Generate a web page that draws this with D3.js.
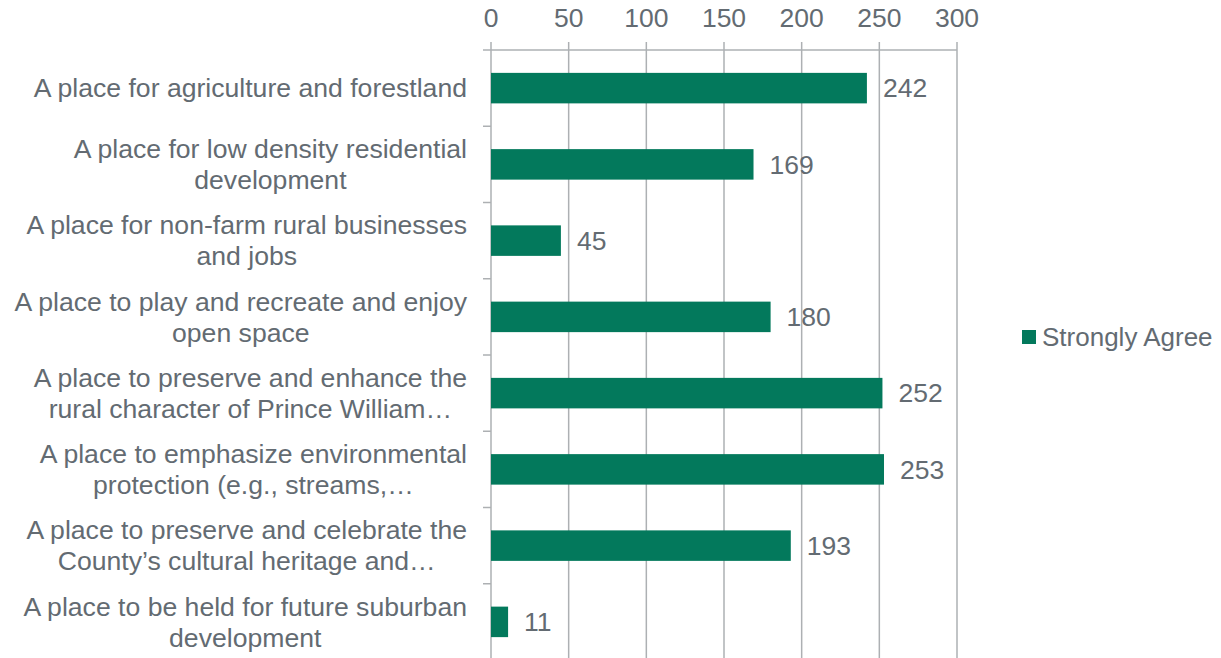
<!DOCTYPE html>
<html><head><meta charset="utf-8">
<script src="https://cdn.jsdelivr.net/npm/d3@7"></script>
<style>body{margin:0;background:#fff}svg{display:block}</style>
</head><body>
<svg id="c" width="1221" height="658"></svg>
<script>
const categories = [
  ["A place for agriculture and forestland"],
  ["A place for low density residential", "development"],
  ["A place for non-farm rural businesses", "and jobs"],
  ["A place to play and recreate and enjoy", "open space"],
  ["A place to preserve and enhance the", "rural character of Prince William…"],
  ["A place to emphasize environmental", "protection (e.g., streams,…"],
  ["A place to preserve and celebrate the", "County’s cultural heritage and…"],
  ["A place to be held for future suburban", "development"]
];
const values = [242, 169, 45, 180, 252, 253, 193, 11];
const tickValues = [0, 50, 100, 150, 200, 250, 300];
const seriesName = "Strongly Agree";

(function () {
const green = "#03795C", textC = "#636B72", gridC = "#ADB0B3";
const font = "'Liberation Sans', Arial, sans-serif", fs = 26.5, catFs = 26.6, legFs = 26;
const svg = d3.select("#c");
const pLeft = 491, pRight = 957, pTop = 50, pBottom = 660;
const x = d3.scaleLinear().domain([0, 300]).range([pLeft, pRight]);
const y = d3.scaleBand().domain(d3.range(categories.length)).range([pTop, pBottom]).paddingInner(0.6).paddingOuter(0.3);
const yb = d3.scaleBand().domain(d3.range(categories.length)).range([pTop, pBottom]);

svg.append("g").selectAll("line").data(tickValues).join("line")
  .attr("x1", d => x(d)).attr("x2", d => x(d)).attr("y1", pTop - 8).attr("y2", 658)
  .attr("stroke", gridC).attr("stroke-width", 1.5);
svg.append("line").attr("x1", pLeft - 8).attr("x2", pRight).attr("y1", pTop).attr("y2", pTop)
  .attr("stroke", gridC).attr("stroke-width", 1.5);
svg.append("g").selectAll("text").data(tickValues).join("text")
  .attr("x", d => x(d)).attr("y", 27).attr("text-anchor", "middle")
  .attr("font-family", font).attr("font-size", fs).attr("fill", textC).text(d => d);
svg.append("g").selectAll("line").data(d3.range(1, categories.length)).join("line")
  .attr("x1", pLeft - 8).attr("x2", pLeft).attr("y1", d => yb(d)).attr("y2", d => yb(d))
  .attr("stroke", gridC).attr("stroke-width", 1.5);

svg.append("g").selectAll("rect").data(values).join("rect")
  .attr("x", x(0)).attr("y", (d, i) => y(i)).attr("width", d => x(d) - x(0)).attr("height", y.bandwidth())
  .attr("fill", green);
svg.append("g").selectAll("text").data(values).join("text")
  .attr("x", d => x(d) + 16).attr("y", (d, i) => y(i) + y.bandwidth() / 2).attr("dy", "0.35em")
  .attr("font-family", font).attr("font-size", fs).attr("fill", textC).text(d => d);

const cl = svg.append("g").selectAll("text").data(categories).join("text")
  .attr("text-anchor", "middle")
  .attr("font-family", font).attr("font-size", catFs).attr("fill", textC);
cl.each(function(lines, i) {
  const cy = yb(i) + yb.bandwidth() / 2;
  const lh = 31;
  const t = d3.select(this);
  const tmp = svg.append("text").attr("font-family", font).attr("font-size", catFs);
  let maxW = 0;
  lines.forEach(l => { tmp.text(l); maxW = Math.max(maxW, tmp.node().getComputedTextLength()); });
  tmp.remove();
  const cx = 467 - maxW / 2;
  lines.forEach((l, k) => {
    t.append("tspan").attr("x", cx).attr("y", cy + (k - (lines.length - 1) / 2) * lh).attr("dy", "0.35em").text(l);
  });
});

svg.append("rect").attr("x", 1022).attr("y", 330).attr("width", 14).attr("height", 14).attr("fill", green);
svg.append("text").attr("x", 1042).attr("y", 337).attr("dy", "0.35em")
  .attr("font-family", font).attr("font-size", legFs).attr("fill", textC).text(seriesName);
})();
</script>
</body></html>
